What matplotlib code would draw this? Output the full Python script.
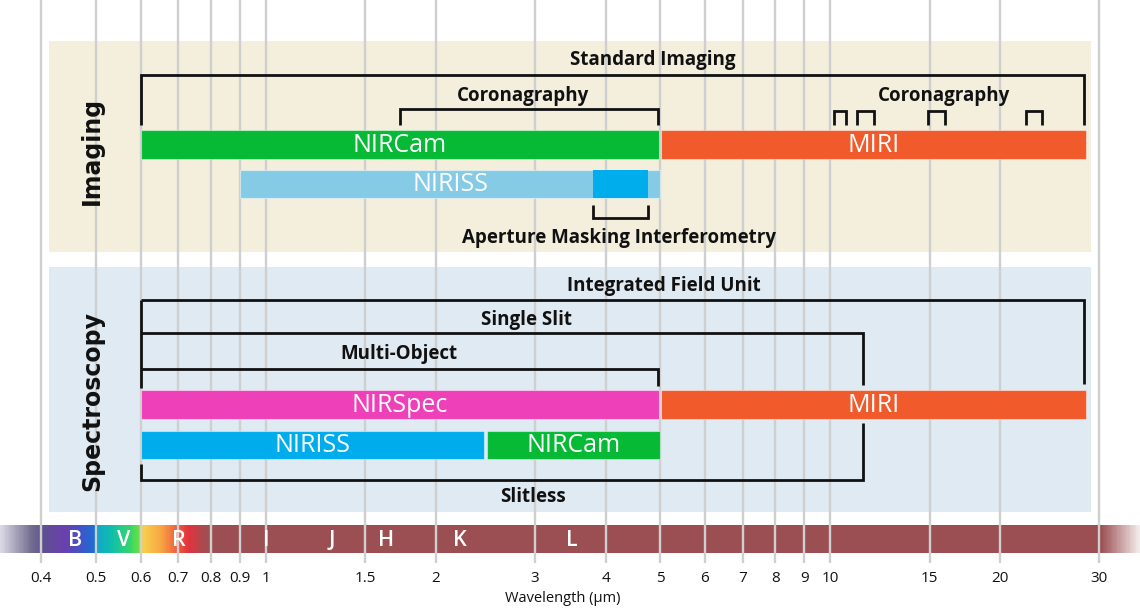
import numpy as np
import matplotlib
matplotlib.use("Agg")
import matplotlib.pyplot as plt
from matplotlib.ticker import NullLocator
from matplotlib.colors import to_rgb

# ---------------- data ----------------
tick_values = [0.4, 0.5, 0.6, 0.7, 0.8, 0.9, 1, 1.5, 2, 3, 4, 5, 6, 7, 8, 9, 10, 15, 20, 30]
tick_labels = ["0.4", "0.5", "0.6", "0.7", "0.8", "0.9", "1", "1.5", "2", "3", "4",
               "5", "6", "7", "8", "9", "10", "15", "20", "30"]

# imaging instruments (µm)
img_names = ["NIRCam", "MIRI", "NIRISS"]
img_start = [0.6, 5.02, 0.9]
img_end = [4.98, 28.45, 5.0]
ami_range = [3.8, 4.75]

# spectroscopy instruments (µm)
spec_names = ["NIRSpec", "MIRI", "NIRISS", "NIRCam"]
spec_start = [0.6, 5.02, 0.6, 2.47]
spec_end = [4.98, 28.45, 2.44, 5.0]

# observing modes (µm)
std_imaging = [0.6, 28.2]
nircam_coron = [1.73, 4.95]
miri_coron = [(10.15, 10.68), (11.15, 11.96), (14.9, 15.96), (22.2, 23.7)]
ifu_range = [0.6, 28.2]
single_slit = [0.6, 11.45]
multi_object = [0.6, 4.95]
slitless = [0.6, 11.45]

# photometric bands
band_letters = ["B", "V", "R", "I", "J", "H", "K", "L"]
band_centers = [0.46, 0.56, 0.70, 1.0, 1.31, 1.63, 2.21, 3.49]

# ---------------- style ----------------
C_GREEN = "#06ba36"
C_ORANGE = "#f15a2b"
C_LBLUE = "#86cbe5"
C_BLUE = "#00adec"
C_MAGENTA = "#ee40b8"
C_IMG_BG = "#f3efdc"
C_SPEC_BG = "#e0eaf3"
C_GRID = "#cfcfcf"
FONT = "Open Sans"

W, H = 1140, 611
fig = plt.figure(figsize=(W / 100, H / 100), dpi=100)
AX_BOTTOM_PX = 563
ax = fig.add_axes([0, 1 - AX_BOTTOM_PX / H, 1, AX_BOTTOM_PX / H])
ax.set_xscale("log")
XMIN, XMAX = 0.338, 35.4
ax.set_xlim(XMIN, XMAX)
ax.set_ylim(AX_BOTTOM_PX, 0)
for s in ax.spines.values():
    s.set_visible(False)
ax.yaxis.set_visible(False)
ax.set_xticks(tick_values)
ax.set_xticklabels(tick_labels, fontsize=11, family=FONT, color="#111111")
ax.xaxis.set_minor_locator(NullLocator())
ax.tick_params(axis="x", length=0, pad=6)
ax.set_axisbelow(True)
ax.grid(axis="x", color=C_GRID, lw=1.7)
ax.patch.set_alpha(0)

# panels
panel_x = [0.413, 29.0]
ax.fill_between(panel_x, 41, 252, color=C_IMG_BG, lw=0, zorder=0.1)
ax.fill_between(panel_x, 267, 512, color=C_SPEC_BG, lw=0, zorder=0.1)

# spectrum band
stops = [(0.338, "#dcdbe6"), (0.385, "#716c8f"), (0.405, "#5e5090"), (0.44, "#6b3fae"),
         (0.475, "#3b58c9"), (0.498, "#1870d6"), (0.503, "#12a6c8"), (0.53, "#0fbcb0"),
         (0.575, "#35d56a"), (0.598, "#6fe040"), (0.603, "#f6d24e"), (0.65, "#f7a842"),
         (0.69, "#f0673f"), (0.73, "#e2323c"), (0.775, "#a84b50"), (0.80, "#9b4f52"),
         (30.2, "#9b4f52"), (35.4, "#f6efef")]
sx = np.log10([s[0] for s in stops])
sc = np.array([to_rgb(s[1]) for s in stops])
edges = np.geomspace(XMIN, XMAX, 900)
mids = np.log10(np.sqrt(edges[:-1] * edges[1:]))
cols = np.stack([np.interp(mids, sx, sc[:, i]) for i in range(3)], axis=-1)
ax.pcolormesh(edges, [525, 553], cols[np.newaxis, :, :], shading="flat", zorder=0.2)
for letter, c in zip(band_letters, band_centers):
    ax.text(c, 540, letter, color="white", fontsize=15.5, family=FONT, fontweight="semibold",
            ha="center", va="center", zorder=4)

# bars
def bar(x0, x1, yc, h, color, label=None):
    ax.barh(yc, x1 - x0, left=x0, height=h, color=color, edgecolor=(1, 1, 1, 0.45),
            linewidth=0.8, zorder=2)
    if label:
        ax.text(np.sqrt(x0 * x1), yc + 0.5, label, color="white", fontsize=18,
                family=FONT, ha="center", va="center", zorder=4)

img_rows = [144.5, 144.5, 184]
img_cols = [C_GREEN, C_ORANGE, C_LBLUE]
for n, a, b, yc, c in zip(img_names, img_start, img_end, img_rows, img_cols):
    bar(a, b, yc, 29 if yc < 160 else 28, c, n)
ax.barh(184, ami_range[1] - ami_range[0], left=ami_range[0], height=27.5, color=C_BLUE,
        lw=0, zorder=2.5)

spec_rows = [404.5, 404.5, 445, 445]
spec_cols = [C_MAGENTA, C_ORANGE, C_BLUE, C_GREEN]
for n, a, b, yc, c in zip(spec_names, spec_start, spec_end, spec_rows, spec_cols):
    bar(a, b, yc, 29 if yc < 420 else 28, c, n)

# brackets
LW = 2.0
def line(xs, ys):
    ax.plot(xs, ys, color="#111111", lw=LW, solid_capstyle="butt",
            solid_joinstyle="miter", zorder=3)

def label(x, y, s):
    ax.text(x, y + 1.5, s, fontsize=13.5, family=FONT, fontweight="bold", color="#111111",
            ha="center", va="center", zorder=4)

line([std_imaging[0], std_imaging[0], std_imaging[1], std_imaging[1]], [125, 75, 75, 125])
label(4.84, 59, "Standard Imaging")
line([nircam_coron[0], nircam_coron[0], nircam_coron[1], nircam_coron[1]], [125, 109, 109, 125])
label(2.85, 95, "Coronagraphy")
for a, b in miri_coron:
    line([a, a, b, b], [125, 111, 111, 125])
label(15.9, 95, "Coronagraphy")
line([ami_range[0], ami_range[0], ami_range[1], ami_range[1]], [205, 218, 218, 205])
label(4.23, 237, "Aperture Masking Interferometry")

line([ifu_range[0], ifu_range[0]], [388, 300])
line([ifu_range[0], ifu_range[1], ifu_range[1]], [300, 300, 384])
label(5.08, 284, "Integrated Field Unit")
line([single_slit[0], single_slit[1], single_slit[1]], [333, 333, 385])
label(2.9, 319, "Single Slit")
line([multi_object[0], multi_object[1], multi_object[1]], [369, 369, 386])
label(1.72, 353, "Multi-Object")
line([slitless[0], slitless[0], slitless[1], slitless[1]], [464, 480, 480, 423])
label(2.97, 496, "Slitless")

# section titles
ax.text(0.4925, 151, "Imaging", rotation=90, fontsize=17, family="DejaVu Sans",
        fontweight="bold", color="#111111", ha="center", va="center", zorder=4)
ax.text(0.4925, 401, "Spectroscopy", rotation=90, fontsize=17, family="DejaVu Sans",
        fontweight="bold", color="#111111", ha="center", va="center", zorder=4)

fig.text(563 / W, 1 - 598 / H, "Wavelength (µm)", fontsize=10.5, family=FONT,
         ha="center", va="center", color="#111111")

fig.savefig("out.png", dpi=100)
